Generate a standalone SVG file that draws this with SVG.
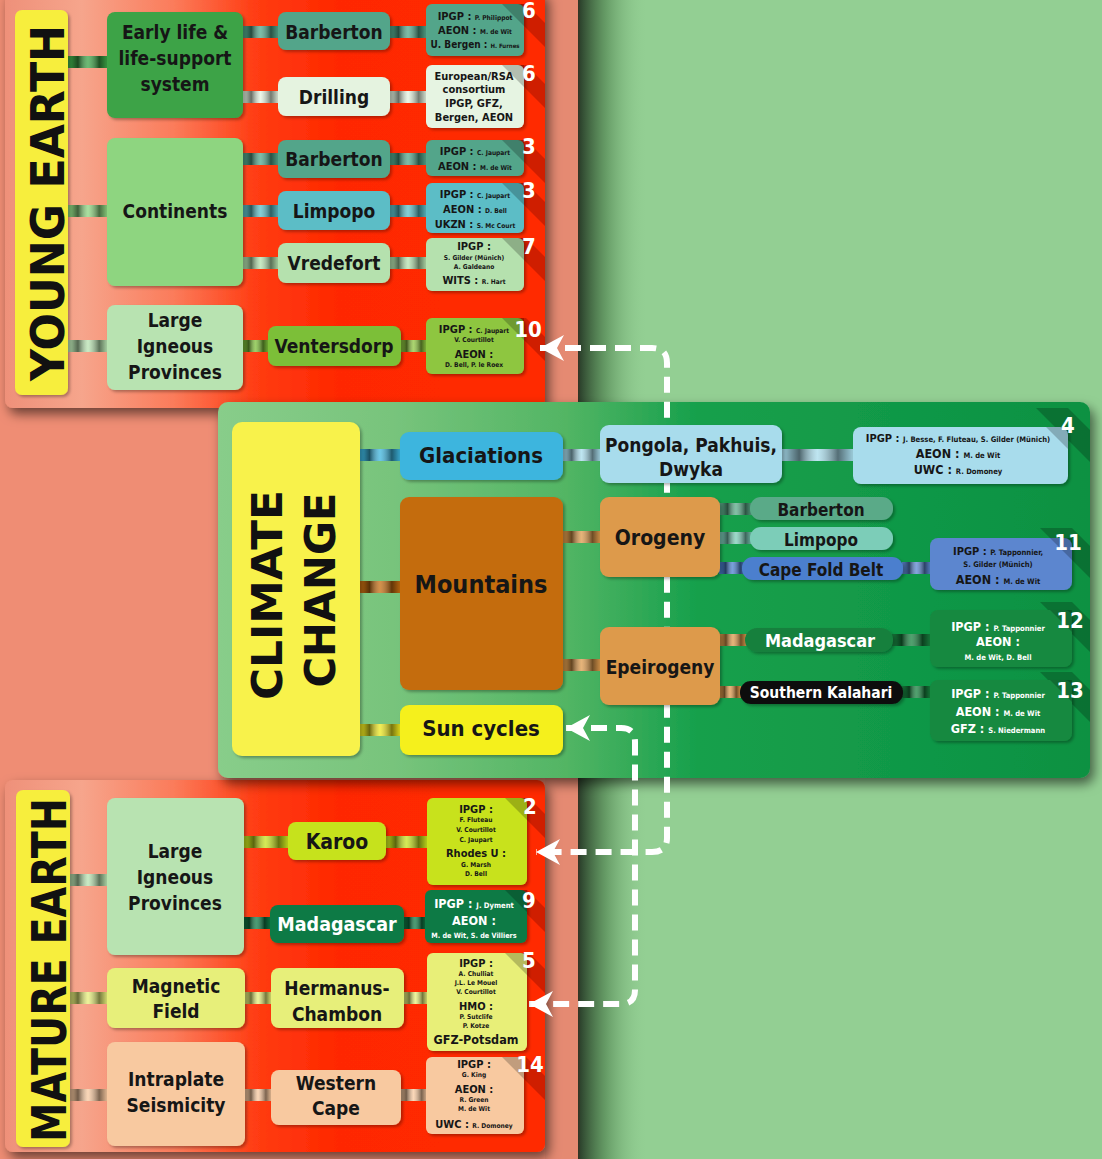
<svg xmlns="http://www.w3.org/2000/svg" width="1102" height="1159" viewBox="0 0 1102 1159">
<defs>
<linearGradient id="redG" gradientUnits="userSpaceOnUse" x1="0" y1="0" x2="545" y2="0">
<stop offset="0" stop-color="#ee8f78"/><stop offset="0.15" stop-color="#f6a58c"/><stop offset="0.32" stop-color="#fb7b5a"/><stop offset="0.47" stop-color="#ff3c12"/><stop offset="0.62" stop-color="#ff2800"/><stop offset="1" stop-color="#ff2a00"/>
</linearGradient>
<linearGradient id="grnG" gradientUnits="userSpaceOnUse" x1="218" y1="0" x2="1090" y2="0">
<stop offset="0" stop-color="#88cd8a"/><stop offset="0.2" stop-color="#78c47c"/><stop offset="0.4" stop-color="#52b564"/><stop offset="0.55" stop-color="#16a04c"/><stop offset="1" stop-color="#0c9142"/>
</linearGradient>
<linearGradient id="shade" x1="0" y1="0" x2="1" y2="0">
<stop offset="0" stop-color="#000" stop-opacity="0.05"/><stop offset="0.25" stop-color="#000" stop-opacity="0.55"/><stop offset="0.5" stop-color="#fff" stop-opacity="0.25"/><stop offset="0.78" stop-color="#000" stop-opacity="0.5"/><stop offset="1" stop-color="#000" stop-opacity="0.05"/>
</linearGradient>
<linearGradient id="edge" x1="0" y1="0" x2="1" y2="0">
<stop offset="0" stop-color="#1c2a1c" stop-opacity="0.9"/><stop offset="0.4" stop-color="#3a6a3a" stop-opacity="0.5"/><stop offset="1" stop-color="#93cf93" stop-opacity="0"/>
</linearGradient>
<filter id="ps" x="-5%" y="-5%" width="115%" height="115%"><feDropShadow dx="4" dy="6" stdDeviation="6" flood-color="#000" flood-opacity="0.55"/></filter>
<filter id="ns" x="-10%" y="-10%" width="125%" height="130%"><feDropShadow dx="2" dy="2" stdDeviation="1.5" flood-color="#000" flood-opacity="0.3"/></filter>
<marker id="ah" viewBox="-2 -15 28 30" refX="24" refY="0" markerWidth="28" markerHeight="30" markerUnits="userSpaceOnUse" orient="auto-start-reverse">
<path d="M24 0 L0 -13 L7 0 L0 13 Z" fill="#fff"/>
</marker>
<clipPath id="cTop"><rect x="5" y="-10" width="540" height="418" rx="8"/></clipPath>
<clipPath id="cBot"><rect x="5" y="780" width="540" height="372" rx="8"/></clipPath>
<clipPath id="cClim"><rect x="218" y="402" width="872" height="376" rx="10"/></clipPath>
</defs>
<style>
.t{font-family:'DejaVu Sans Condensed','Liberation Sans Narrow','Liberation Sans',sans-serif;font-weight:bold;text-anchor:middle;fill:#161616}
.m{font-size:19px}
.w{fill:#fff}
.k{font-size:11px}
.kb{font-size:12.5px}
.n{font-size:6.6px}
.nb{font-size:7.6px}
.num{font-family:'DejaVu Sans Condensed','Liberation Sans Narrow','Liberation Sans',sans-serif;font-weight:bold;font-size:22px;fill:#fff;text-anchor:middle}
.h{font-family:'DejaVu Sans','Liberation Sans',sans-serif;font-weight:bold;fill:#111;text-anchor:middle}
.dash{fill:none;stroke:#fff;stroke-width:6;stroke-dasharray:16 9;marker-start:url(#ah);marker-end:url(#ah)}
.bandR{fill:#a81400;opacity:0.55}
.bandG{fill:#000;opacity:0.22}
.tri{fill:#000;opacity:0.22}
</style>

<!-- backgrounds -->
<rect x="0" y="0" width="1102" height="1159" fill="#93cf93"/>
<rect x="0" y="0" width="580" height="1159" fill="#ef8d74"/>
<rect x="545" y="0" width="35" height="1159" fill="#e58a72"/>
<rect x="578" y="0" width="70" height="1159" fill="url(#edge)"/>

<!-- panels -->
<g id="panel-young">
<rect x="5" y="-10" width="540" height="418" rx="8" fill="url(#redG)" filter="url(#ps)"/>
</g>
<g id="panel-mature">
<rect x="5" y="780" width="540" height="372" rx="8" fill="url(#redG)" filter="url(#ps)"/>
</g>
<g id="panel-climate">
<rect x="218" y="402" width="872" height="376" rx="10" fill="url(#grnG)" filter="url(#ps)"/>
</g>

<!-- number bands -->
<g clip-path="url(#cTop)">
<polygon class="bandR" points="502,4 526,4 566,44 566,68"/>
<polygon class="bandR" points="502,65 526,65 566,105 566,129"/>
<polygon class="bandR" points="502,140 526,140 566,180 566,204"/>
<polygon class="bandR" points="502,183 526,183 566,223 566,247"/>
<polygon class="bandR" points="502,238 526,238 566,278 566,302"/>
<polygon class="bandR" points="502,318 526,318 566,358 566,382"/>
</g>
<g clip-path="url(#cBot)">
<polygon class="bandR" points="505,798 529,798 569,838 569,862"/>
<polygon class="bandR" points="503,890 527,890 567,930 567,954"/>
<polygon class="bandR" points="505,953 529,953 569,993 569,1017"/>
<polygon class="bandR" points="502,1057 526,1057 566,1097 566,1121"/>
</g>
<g clip-path="url(#cClim)">
<polygon class="bandG" points="1036,408 1068,408 1110,450 1110,482"/>
<polygon class="bandG" points="1040,528 1072,528 1110,566 1110,598"/>
<polygon class="bandG" points="1040,602 1072,602 1110,640 1110,672"/>
<polygon class="bandG" points="1040,672 1072,672 1110,710 1110,742"/>
</g>

<!-- connectors -->
<g id="connectors">
<g id="bars">
<rect x="68" y="56" width="40" height="12" fill="#3ca346"/><rect x="68" y="56" width="40" height="12" fill="url(#shade)"/>
<rect x="68" y="205" width="40" height="12" fill="#8ed580"/><rect x="68" y="205" width="40" height="12" fill="url(#shade)"/>
<rect x="68" y="340" width="40" height="12" fill="#b8e3b1"/><rect x="68" y="340" width="40" height="12" fill="url(#shade)"/>
<rect x="242" y="26" width="37" height="12" fill="#52a58a"/><rect x="242" y="26" width="37" height="12" fill="url(#shade)"/>
<rect x="242" y="91" width="37" height="12" fill="#e5f3e0"/><rect x="242" y="91" width="37" height="12" fill="url(#shade)"/>
<rect x="242" y="153" width="37" height="12" fill="#52a58a"/><rect x="242" y="153" width="37" height="12" fill="url(#shade)"/>
<rect x="242" y="205" width="37" height="12" fill="#5cbdc6"/><rect x="242" y="205" width="37" height="12" fill="url(#shade)"/>
<rect x="242" y="257" width="37" height="12" fill="#b5e1ae"/><rect x="242" y="257" width="37" height="12" fill="url(#shade)"/>
<rect x="242" y="340" width="27" height="12" fill="#7cbf38"/><rect x="242" y="340" width="27" height="12" fill="url(#shade)"/>
<rect x="389" y="26" width="38" height="12" fill="#52a58a"/><rect x="389" y="26" width="38" height="12" fill="url(#shade)"/>
<rect x="389" y="91" width="38" height="12" fill="#e5f3e0"/><rect x="389" y="91" width="38" height="12" fill="url(#shade)"/>
<rect x="389" y="153" width="38" height="12" fill="#52a58a"/><rect x="389" y="153" width="38" height="12" fill="url(#shade)"/>
<rect x="389" y="205" width="38" height="12" fill="#5cbdc6"/><rect x="389" y="205" width="38" height="12" fill="url(#shade)"/>
<rect x="389" y="257" width="38" height="12" fill="#b5e1ae"/><rect x="389" y="257" width="38" height="12" fill="url(#shade)"/>
<rect x="400" y="340" width="27" height="12" fill="#8ec63f"/><rect x="400" y="340" width="27" height="12" fill="url(#shade)"/>

<rect x="359" y="449" width="42" height="12" fill="#3cb5de"/><rect x="359" y="449" width="42" height="12" fill="url(#shade)"/>
<rect x="359" y="581" width="42" height="12" fill="#c46c10"/><rect x="359" y="581" width="42" height="12" fill="url(#shade)"/>
<rect x="359" y="724" width="42" height="12" fill="#eee81e"/><rect x="359" y="724" width="42" height="12" fill="url(#shade)"/>
<rect x="562" y="449" width="39" height="12" fill="#a8dcec"/><rect x="562" y="449" width="39" height="12" fill="url(#shade)"/>
<rect x="781" y="449" width="73" height="12" fill="#a8dcec"/><rect x="781" y="449" width="73" height="12" fill="url(#shade)"/>
<rect x="562" y="531" width="39" height="12" fill="#dd9a4c"/><rect x="562" y="531" width="39" height="12" fill="url(#shade)"/>
<rect x="562" y="659" width="39" height="12" fill="#dd9a4c"/><rect x="562" y="659" width="39" height="12" fill="url(#shade)"/>
<rect x="719" y="503" width="34" height="12" fill="#5aaa88"/><rect x="719" y="503" width="34" height="12" fill="url(#shade)"/>
<rect x="719" y="532" width="34" height="12" fill="#7ccdb8"/><rect x="719" y="532" width="34" height="12" fill="url(#shade)"/>
<rect x="719" y="562" width="27" height="12" fill="#4c7fce"/><rect x="719" y="562" width="27" height="12" fill="url(#shade)"/>
<rect x="902" y="562" width="29" height="12" fill="#5b86cf"/><rect x="902" y="562" width="29" height="12" fill="url(#shade)"/>
<rect x="719" y="634" width="28" height="12" fill="#dd9a4c"/><rect x="719" y="634" width="28" height="12" fill="url(#shade)"/>
<rect x="719" y="686" width="22" height="12" fill="#dd9a4c"/><rect x="719" y="686" width="22" height="12" fill="url(#shade)"/>
<rect x="892" y="634" width="39" height="12" fill="#17803e"/><rect x="892" y="634" width="39" height="12" fill="url(#shade)"/>
<rect x="902" y="686" width="29" height="12" fill="#17803e"/><rect x="902" y="686" width="29" height="12" fill="url(#shade)"/>

<rect x="68" y="874" width="40" height="12" fill="#b8e3b1"/><rect x="68" y="874" width="40" height="12" fill="url(#shade)"/>
<rect x="68" y="992" width="40" height="12" fill="#e7ef7a"/><rect x="68" y="992" width="40" height="12" fill="url(#shade)"/>
<rect x="68" y="1089" width="40" height="12" fill="#f8c9a0"/><rect x="68" y="1089" width="40" height="12" fill="url(#shade)"/>
<rect x="242" y="836" width="47" height="12" fill="#c6e21e"/><rect x="242" y="836" width="47" height="12" fill="url(#shade)"/>
<rect x="242" y="917" width="29" height="12" fill="#0f7a45"/><rect x="242" y="917" width="29" height="12" fill="url(#shade)"/>
<rect x="385" y="836" width="43" height="12" fill="#c6e21e"/><rect x="385" y="836" width="43" height="12" fill="url(#shade)"/>
<rect x="403" y="917" width="24" height="12" fill="#0f7a45"/><rect x="403" y="917" width="24" height="12" fill="url(#shade)"/>
<rect x="244" y="992" width="28" height="12" fill="#e7ef7a"/><rect x="244" y="992" width="28" height="12" fill="url(#shade)"/>
<rect x="403" y="992" width="25" height="12" fill="#e7ef7a"/><rect x="403" y="992" width="25" height="12" fill="url(#shade)"/>
<rect x="244" y="1089" width="28" height="12" fill="#f8c9a0"/><rect x="244" y="1089" width="28" height="12" fill="url(#shade)"/>
<rect x="399" y="1089" width="29" height="12" fill="#f8c9a0"/><rect x="399" y="1089" width="29" height="12" fill="url(#shade)"/>
</g>
<path class="dash" d="M540 348 H652 Q667 348 667 363 V838 Q667 852 652 852 H536"/>
<path class="dash" d="M566 728 H621 Q635 728 635 742 V990 Q635 1004 621 1004 H529"/>
</g>

<!-- YOUNG EARTH -->
<g id="young-earth">
<rect x="15" y="10" width="53" height="385" rx="7" fill="#f7ee3c" filter="url(#ns)"/>
<text class="h" font-size="46" transform="translate(64,203) rotate(-90)" textLength="356" lengthAdjust="spacingAndGlyphs">YOUNG EARTH</text>
</g>
<g id="early-life">
<rect x="107" y="12" width="136" height="106" rx="8" fill="#3ca346" filter="url(#ns)"/>
<text class="t m" x="175" y="39">Early life &amp;</text>
<text class="t m" x="175" y="65">life-support</text>
<text class="t m" x="175" y="91">system</text>
</g>
<g id="barberton-1">
<rect x="278" y="12" width="112" height="38" rx="8" fill="#52a58a" filter="url(#ns)"/>
<text class="t m" x="334" y="39">Barberton</text>
</g>
<g id="drilling">
<rect x="278" y="77" width="112" height="39" rx="8" fill="#e5f3e0" filter="url(#ns)"/>
<text class="t m" x="334" y="104">Drilling</text>
</g>
<g id="continents">
<rect x="107" y="138" width="136" height="148" rx="8" fill="#8ed580" filter="url(#ns)"/>
<text class="t m" x="175" y="218">Continents</text>
</g>
<g id="barberton-2">
<rect x="278" y="140" width="112" height="38" rx="8" fill="#52a58a" filter="url(#ns)"/>
<text class="t m" x="334" y="166">Barberton</text>
</g>
<g id="limpopo-1">
<rect x="278" y="191" width="112" height="39" rx="8" fill="#5cbdc6" filter="url(#ns)"/>
<text class="t m" x="334" y="218">Limpopo</text>
</g>
<g id="vredefort">
<rect x="278" y="243" width="112" height="40" rx="8" fill="#b5e1ae" filter="url(#ns)"/>
<text class="t m" x="334" y="270">Vredefort</text>
</g>
<g id="lip-young">
<rect x="107" y="305" width="136" height="85" rx="8" fill="#b8e3b1" filter="url(#ns)"/>
<text class="t m" x="175" y="327">Large</text>
<text class="t m" x="175" y="353">Igneous</text>
<text class="t m" x="175" y="379">Provinces</text>
</g>
<g id="ventersdorp">
<rect x="268" y="326" width="133" height="40" rx="8" fill="#7cbf38" filter="url(#ns)"/>
<text class="t m" x="334" y="353">Ventersdorp</text>
</g>

<g id="ref-6a">
<rect x="426" y="4" width="98" height="52" rx="6" fill="#52a58a" filter="url(#ns)"/>
<polygon class="tri" points="502,4 524,4 524,26"/>
<text class="t" x="475" y="20"><tspan class="k">IPGP : </tspan><tspan class="n">P. Philippot</tspan></text>
<text class="t" x="475" y="34"><tspan class="k">AEON : </tspan><tspan class="n">M. de Wit</tspan></text>
<text class="t" x="475" y="48"><tspan font-size="10">U. Bergen : </tspan><tspan font-size="6">H. Furnes</tspan></text>
<text class="num" x="529" y="18">6</text>
</g>
<g id="ref-6b">
<rect x="426" y="65" width="98" height="63" rx="6" fill="#e6f4e2" filter="url(#ns)"/>
<polygon class="tri" points="502,65 524,65 524,87"/>
<text class="t k" x="474" y="80">European/RSA</text>
<text class="t k" x="474" y="93">consortium</text>
<text class="t k" x="474" y="107">IPGP, GFZ,</text>
<text class="t k" x="474" y="121">Bergen, AEON</text>
<text class="num" x="529" y="81">6</text>
</g>
<g id="ref-3a">
<rect x="426" y="140" width="98" height="36" rx="6" fill="#52a58a" filter="url(#ns)"/>
<polygon class="tri" points="502,140 524,140 524,162"/>
<text class="t" x="475" y="155"><tspan class="k">IPGP : </tspan><tspan class="n">C. Jaupart</tspan></text>
<text class="t" x="475" y="170"><tspan class="k">AEON : </tspan><tspan class="n">M. de Wit</tspan></text>
<text class="num" x="529" y="154">3</text>
</g>
<g id="ref-3b">
<rect x="426" y="183" width="98" height="50" rx="6" fill="#5cbdc6" filter="url(#ns)"/>
<polygon class="tri" points="502,183 524,183 524,205"/>
<text class="t" x="475" y="198"><tspan class="k">IPGP : </tspan><tspan class="n">C. Jaupart</tspan></text>
<text class="t" x="475" y="213"><tspan class="k">AEON : </tspan><tspan class="n">D. Bell</tspan></text>
<text class="t" x="475" y="228"><tspan class="k">UKZN : </tspan><tspan class="n">S. Mc Court</tspan></text>
<text class="num" x="529" y="198">3</text>
</g>
<g id="ref-7">
<rect x="426" y="238" width="98" height="53" rx="6" fill="#b5e1ae" filter="url(#ns)"/>
<polygon class="tri" points="502,238 524,238 524,260"/>
<text class="t k" x="474" y="250">IPGP :</text>
<text class="t n" x="474" y="260">S. Gilder (Münich)</text>
<text class="t n" x="474" y="269">A. Galdeano</text>
<text class="t" x="474" y="284"><tspan class="k">WITS : </tspan><tspan class="n">R. Hart</tspan></text>
<text class="num" x="529" y="254">7</text>
</g>
<g id="ref-10">
<rect x="426" y="318" width="98" height="56" rx="6" fill="#8ec63f" filter="url(#ns)"/>
<polygon class="tri" points="502,318 524,318 524,340"/>
<text class="t" x="474" y="333"><tspan class="k">IPGP : </tspan><tspan class="n">C. Jaupart</tspan></text>
<text class="t n" x="474" y="342">V. Courtillot</text>
<text class="t k" x="474" y="358">AEON :</text>
<text class="t n" x="474" y="367">D. Bell, P. le Roex</text>
<text class="num" x="528" y="337">10</text>
</g>

<!-- CLIMATE CHANGE -->
<g id="climate-change">
<rect x="232" y="422" width="128" height="334" rx="10" fill="#f8f24c" filter="url(#ns)"/>
<text class="h" font-size="43" transform="translate(282,595) rotate(-90)" textLength="210" lengthAdjust="spacingAndGlyphs">CLIMATE</text>
<text class="h" font-size="43" transform="translate(335,590) rotate(-90)" textLength="195" lengthAdjust="spacingAndGlyphs">CHANGE</text>
</g>
<g id="glaciations">
<rect x="400" y="432" width="163" height="48" rx="9" fill="#3cb5de" filter="url(#ns)"/>
<text class="t" font-size="22" x="481" y="463">Glaciations</text>
</g>
<g id="pongola">
<rect x="600" y="425" width="182" height="58" rx="9" fill="#a8dcec" filter="url(#ns)"/>
<text class="t m" x="691" y="452">Pongola, Pakhuis,</text>
<text class="t m" x="691" y="476">Dwyka</text>
</g>
<g id="ref-4">
<rect x="853" y="427" width="215" height="57" rx="8" fill="#a8dcec" filter="url(#ns)"/>
<polygon class="tri" points="1046,427 1068,427 1068,449"/>
<text class="t" x="958" y="442"><tspan class="k">IPGP : </tspan><tspan class="nb">J. Besse, F. Fluteau, S. Gilder (Münich)</tspan></text>
<text class="t" x="958" y="458"><tspan class="kb">AEON : </tspan><tspan class="nb">M. de Wit</tspan></text>
<text class="t" x="958" y="474"><tspan class="kb">UWC : </tspan><tspan class="nb">R. Domoney</tspan></text>
<text class="num" x="1068" y="433">4</text>
</g>
<g id="mountains">
<rect x="400" y="497" width="163" height="193" rx="9" fill="#c46c10" filter="url(#ns)"/>
<text class="t" font-size="25" x="481" y="593">Mountains</text>
</g>
<g id="orogeny">
<rect x="600" y="497" width="120" height="80" rx="9" fill="#dd9a4c" filter="url(#ns)"/>
<text class="t" font-size="21" x="660" y="545">Orogeny</text>
</g>
<g id="epeirogeny">
<rect x="600" y="627" width="120" height="78" rx="9" fill="#dd9a4c" filter="url(#ns)"/>
<text class="t" font-size="19" x="660" y="674">Epeirogeny</text>
</g>
<g id="sun-cycles">
<rect x="400" y="705" width="163" height="50" rx="9" fill="#f5f01a" filter="url(#ns)"/>
<text class="t" font-size="22" x="481" y="736">Sun cycles</text>
</g>
<g id="barberton-3">
<rect x="750" y="497" width="143" height="23" rx="11" fill="#5aaa88" filter="url(#ns)"/>
<text class="t" font-size="17" x="821" y="516">Barberton</text>
</g>
<g id="limpopo-2">
<rect x="750" y="527" width="143" height="23" rx="11" fill="#7ccdb8" filter="url(#ns)"/>
<text class="t" font-size="17" x="821" y="546">Limpopo</text>
</g>
<g id="cape-fold-belt">
<rect x="742" y="557" width="161" height="23" rx="11" fill="#4c7fce" filter="url(#ns)"/>
<text class="t" font-size="17" x="821" y="576">Cape Fold Belt</text>
</g>
<g id="ref-11">
<rect x="930" y="538" width="142" height="52" rx="8" fill="#5b86cf" filter="url(#ns)"/>
<polygon class="tri" points="1050,538 1072,538 1072,560"/>
<text class="t" x="998" y="555"><tspan class="k">IPGP : </tspan><tspan class="nb">P. Tapponnier,</tspan></text>
<text class="t nb" x="998" y="567">S. Gilder (Münich)</text>
<text class="t" x="998" y="584"><tspan class="kb">AEON : </tspan><tspan class="nb">M. de Wit</tspan></text>
<text class="num" x="1068" y="550">11</text>
</g>
<g id="madagascar-1">
<rect x="745" y="628" width="148" height="24" rx="12" fill="#16803e" filter="url(#ns)"/>
<text class="t w" font-size="18" x="820" y="647">Madagascar</text>
</g>
<g id="ref-12">
<rect x="930" y="610" width="142" height="57" rx="8" fill="#17893f" filter="url(#ns)"/>
<polygon class="tri" points="1050,610 1072,610 1072,632"/>
<text class="t w" x="998" y="631"><tspan class="kb">IPGP : </tspan><tspan class="nb">P. Tapponnier</tspan></text>
<text class="t w kb" x="998" y="646">AEON :</text>
<text class="t w nb" x="998" y="660">M. de Wit, D. Bell</text>
<text class="num" x="1070" y="628">12</text>
</g>
<g id="southern-kalahari">
<rect x="740" y="681" width="163" height="23" rx="11" fill="#0c0c0c" filter="url(#ns)"/>
<text class="t w" font-size="15.5" x="821" y="698">Southern Kalahari</text>
</g>
<g id="ref-13">
<rect x="930" y="680" width="142" height="61" rx="8" fill="#17893f" filter="url(#ns)"/>
<polygon class="tri" points="1050,680 1072,680 1072,702"/>
<text class="t w" x="998" y="698"><tspan class="kb">IPGP : </tspan><tspan class="nb">P. Tapponnier</tspan></text>
<text class="t w" x="998" y="716"><tspan class="kb">AEON : </tspan><tspan class="nb">M. de Wit</tspan></text>
<text class="t w" x="998" y="733"><tspan class="kb">GFZ : </tspan><tspan class="nb">S. Niedermann</tspan></text>
<text class="num" x="1070" y="698">13</text>
</g>

<!-- MATURE EARTH -->
<g id="mature-earth">
<rect x="16" y="790" width="54" height="357" rx="7" fill="#f7ee3c" filter="url(#ns)"/>
<text class="h" font-size="48" transform="translate(66,970) rotate(-90)" textLength="344" lengthAdjust="spacingAndGlyphs">MATURE EARTH</text>
</g>
<g id="lip-mature">
<rect x="107" y="798" width="137" height="157" rx="8" fill="#b8e3b1" filter="url(#ns)"/>
<text class="t m" x="175" y="858">Large</text>
<text class="t m" x="175" y="884">Igneous</text>
<text class="t m" x="175" y="910">Provinces</text>
</g>
<g id="karoo">
<rect x="288" y="822" width="98" height="38" rx="8" fill="#c6e21e" filter="url(#ns)"/>
<text class="t" font-size="21" x="337" y="849">Karoo</text>
</g>
<g id="madagascar-2">
<rect x="270" y="905" width="134" height="38" rx="8" fill="#0f7a45" filter="url(#ns)"/>
<text class="t w" font-size="19.5" x="337" y="931">Madagascar</text>
</g>
<g id="ref-2">
<rect x="427" y="798" width="100" height="87" rx="6" fill="#c8e21f" filter="url(#ns)"/>
<polygon class="tri" points="505,798 527,798 527,820"/>
<text class="t k" x="476" y="813">IPGP :</text>
<text class="t n" x="476" y="822">F. Fluteau</text>
<text class="t n" x="476" y="832">V. Courtillot</text>
<text class="t n" x="476" y="842">C. Jaupart</text>
<text class="t k" x="476" y="857">Rhodes U :</text>
<text class="t n" x="476" y="867">G. Marsh</text>
<text class="t n" x="476" y="876">D. Bell</text>
<text class="num" x="530" y="814">2</text>
</g>
<g id="ref-9">
<rect x="425" y="890" width="102" height="53" rx="6" fill="#0f7a45" filter="url(#ns)"/>
<polygon class="tri" points="505,890 527,890 527,912"/>
<text class="t w" x="474" y="908"><tspan class="kb">IPGP : </tspan><tspan class="nb">J. Dyment</tspan></text>
<text class="t w kb" x="474" y="925">AEON :</text>
<text class="t w" font-size="7.2" x="474" y="938">M. de Wit, S. de Villiers</text>
<text class="num" x="529" y="908">9</text>
</g>
<g id="magnetic-field">
<rect x="107" y="968" width="138" height="60" rx="8" fill="#e7ef7a" filter="url(#ns)"/>
<text class="t m" x="176" y="993">Magnetic</text>
<text class="t m" x="176" y="1018">Field</text>
</g>
<g id="hermanus-chambon">
<rect x="271" y="968" width="133" height="60" rx="8" fill="#e7ef7a" filter="url(#ns)"/>
<text class="t m" x="337" y="995">Hermanus-</text>
<text class="t m" x="337" y="1021">Chambon</text>
</g>
<g id="ref-5">
<rect x="427" y="953" width="100" height="98" rx="6" fill="#e8ef78" filter="url(#ns)"/>
<polygon class="tri" points="505,953 527,953 527,975"/>
<text class="t k" x="476" y="967">IPGP :</text>
<text class="t n" x="476" y="976">A. Chulliat</text>
<text class="t n" x="476" y="985">J.L. Le Mouel</text>
<text class="t n" x="476" y="994">V. Courtillot</text>
<text class="t k" x="476" y="1010">HMO :</text>
<text class="t n" x="476" y="1019">P. Sutclife</text>
<text class="t n" x="476" y="1028">P. Kotze</text>
<text class="t kb" x="476" y="1044">GFZ-Potsdam</text>
<text class="num" x="529" y="968">5</text>
</g>
<g id="intraplate">
<rect x="107" y="1042" width="138" height="104" rx="8" fill="#f8c9a0" filter="url(#ns)"/>
<text class="t m" x="176" y="1086">Intraplate</text>
<text class="t m" x="176" y="1112">Seismicity</text>
</g>
<g id="western-cape">
<rect x="271" y="1070" width="130" height="55" rx="8" fill="#f8c9a0" filter="url(#ns)"/>
<text class="t m" x="336" y="1090">Western</text>
<text class="t m" x="336" y="1115">Cape</text>
</g>
<g id="ref-14">
<rect x="426" y="1057" width="98" height="77" rx="6" fill="#f8c9a0" filter="url(#ns)"/>
<polygon class="tri" points="502,1057 524,1057 524,1079"/>
<text class="t k" x="474" y="1068">IPGP :</text>
<text class="t n" x="474" y="1077">G. King</text>
<text class="t k" x="474" y="1093">AEON :</text>
<text class="t n" x="474" y="1102">R. Green</text>
<text class="t n" x="474" y="1111">M. de Wit</text>
<text class="t" x="474" y="1128"><tspan class="k">UWC : </tspan><tspan class="n">R. Domoney</tspan></text>
<text class="num" x="530" y="1072">14</text>
</g>
</svg>
